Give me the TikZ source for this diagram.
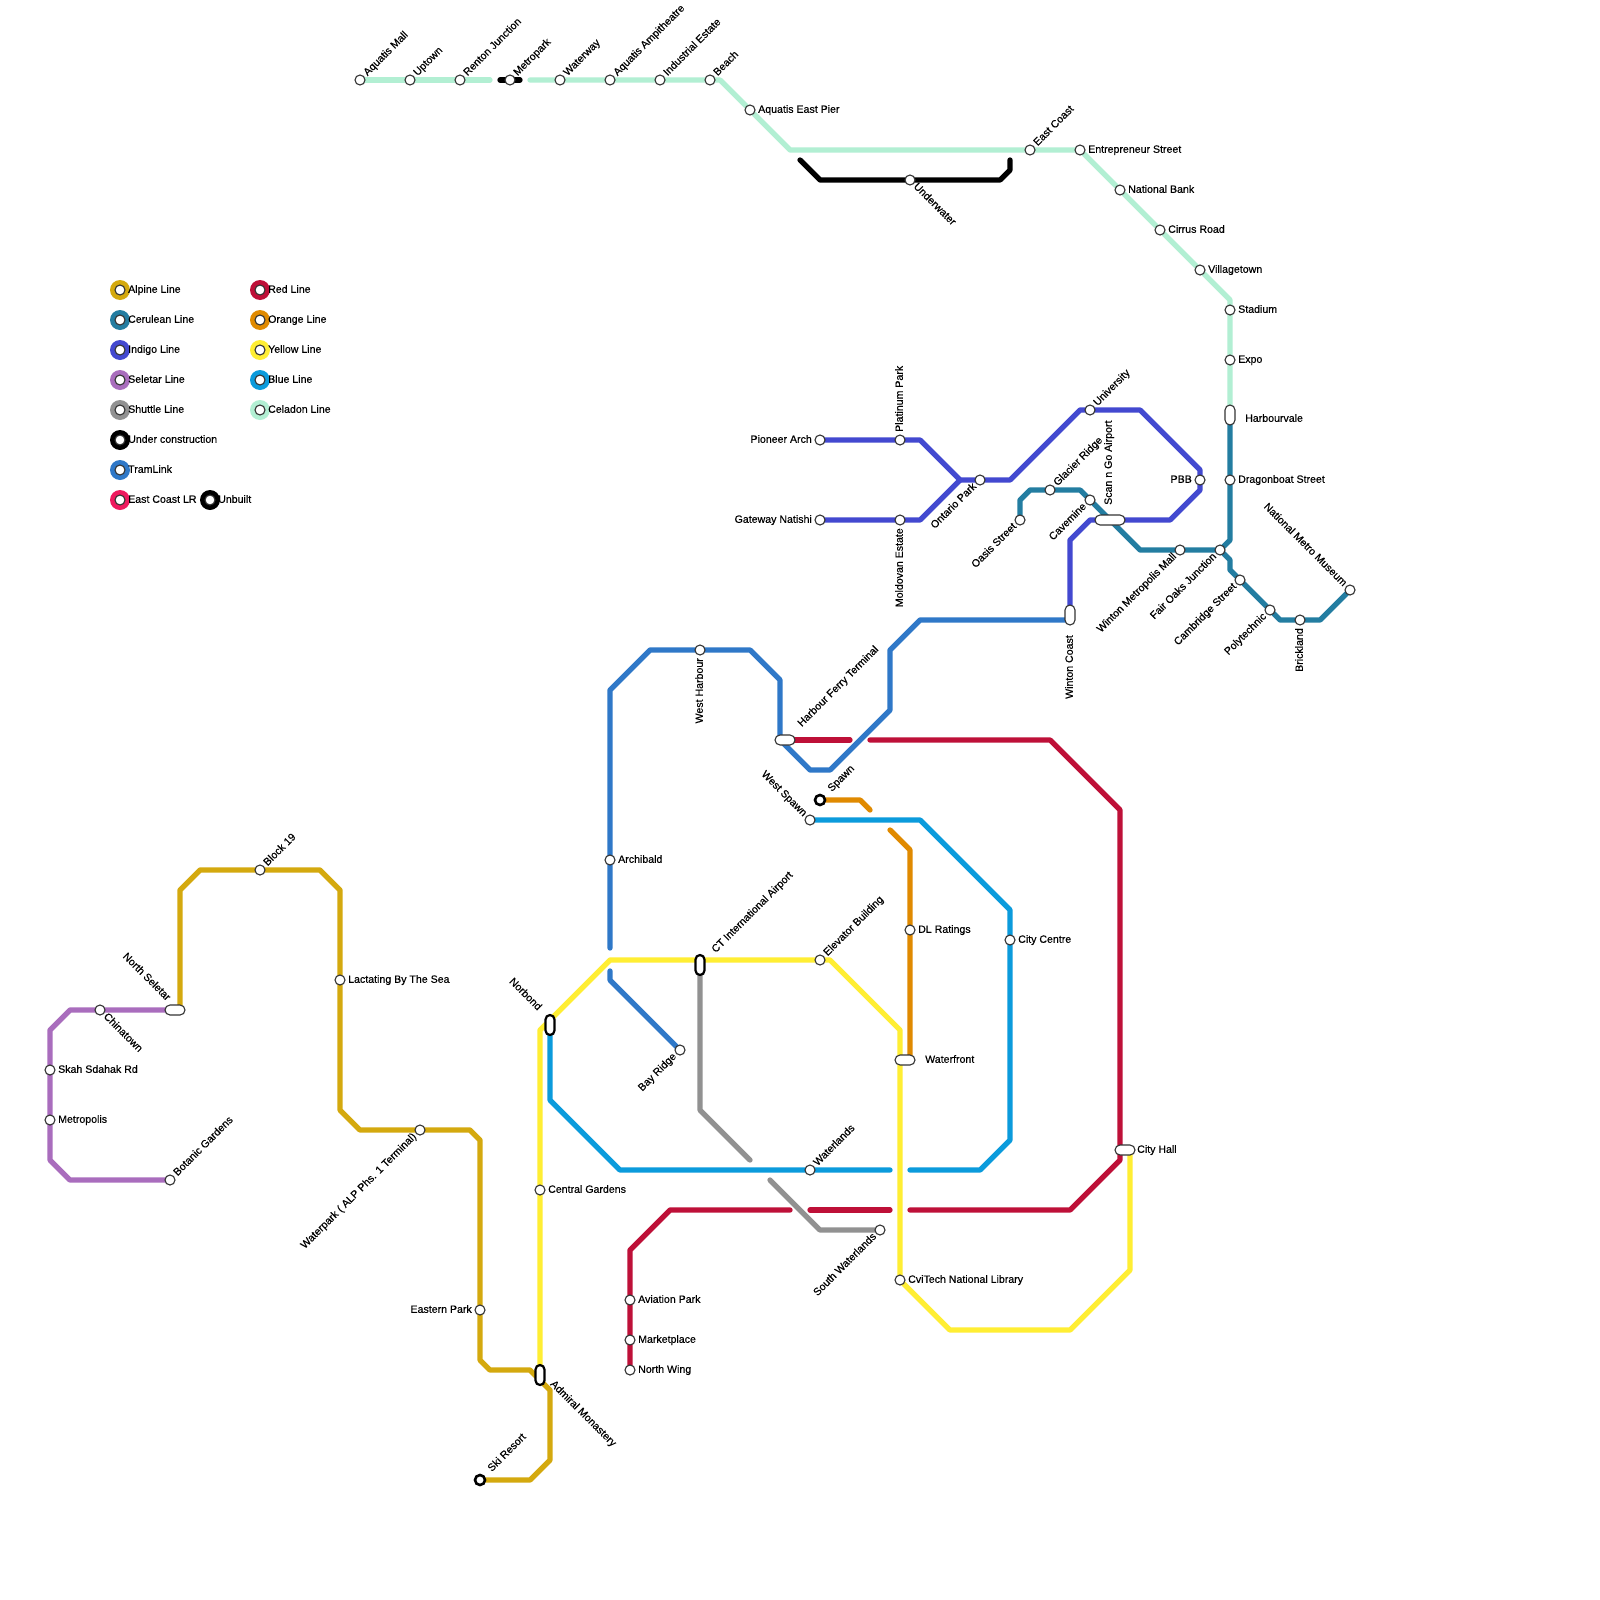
\documentclass[tikz,border=0pt]{standalone}
\usepackage{fontspec}
\setmainfont{Liberation Sans}[FakeBold=0.35]
\pgfdeclarelayer{bg}
\pgfsetlayers{bg,main}
\definecolor{cAlp}{HTML}{D4A90E}
\definecolor{cCer}{HTML}{237DA1}
\definecolor{cInd}{HTML}{4349D0}
\definecolor{cSel}{HTML}{A96DBD}
\definecolor{cShu}{HTML}{919191}
\definecolor{cTra}{HTML}{2F78C8}
\definecolor{cEas}{HTML}{EE1A5E}
\definecolor{cRed}{HTML}{BE1038}
\definecolor{cOra}{HTML}{E08A00}
\definecolor{cYel}{HTML}{FFEE33}
\definecolor{cBlu}{HTML}{0B9BDC}
\definecolor{cCel}{HTML}{B2EFD3}
\definecolor{cEdge}{HTML}{333333}
\tikzset{
  ln/.style={line width=5.3pt,line cap=round,line join=round},
  stn/.style={circle,draw=cEdge,line width=1.1pt,fill=white,minimum size=10pt,inner sep=0pt},
  term/.style={circle,draw=black,line width=2.6pt,fill=white,minimum size=10pt,inner sep=0pt},
  pillH/.style={rectangle,rounded corners=5pt,draw=cEdge,line width=1.1pt,fill=white,minimum width=20pt,minimum height=10pt,inner sep=0pt},
  pillL/.style={rectangle,rounded corners=5pt,draw=cEdge,line width=1.1pt,fill=white,minimum width=30pt,minimum height=10pt,inner sep=0pt},
  pillV/.style={rectangle,rounded corners=5pt,draw=cEdge,line width=1.1pt,fill=white,minimum width=10pt,minimum height=20pt,inner sep=0pt},
  pillK/.style={rectangle,rounded corners=4.5pt,draw=black,line width=2.2pt,fill=white,minimum width=9pt,minimum height=20pt,inner sep=0pt},
  tx/.style={inner sep=0pt,text height=7.6pt,text depth=2pt,font=\fontsize{10.6pt}{12pt}\selectfont,text=black},
  lE/.style={xshift=8pt,anchor=west},
  lW/.style={xshift=-8pt,anchor=east},
  lNE/.style={xshift=5.5pt,yshift=5.5pt,rotate=45,anchor=west},
  lSE/.style={xshift=5pt,yshift=-5pt,rotate=-45,anchor=west},
  lSW/.style={xshift=-5pt,yshift=-5pt,rotate=45,anchor=east},
  lNW/.style={xshift=-5pt,yshift=5pt,rotate=-45,anchor=east},
  lUp/.style={yshift=8pt,rotate=90,anchor=west},
  lDn/.style={yshift=-8pt,rotate=90,anchor=east},
  ring/.style={circle,minimum size=20pt,inner sep=0pt},
}
\newcommand{\stn}[5][stn]{\node[#1] (#2) at (#3) {}; \node[tx,#4] (#2L) at (#3) {#5};}
\newcommand{\legitem}[4]{\node[ring,fill=#3] (#1) at (#2) {}; \node[stn] (#1I) at (#2) {}; \node[tx,anchor=west,xshift=8pt] (#1L) at (#2) {#4};}
\begin{document}
\begin{tikzpicture}[x=1pt,y=-1pt]
\useasboundingbox (0,0) rectangle (1600,1600);
% legend
\legitem{gA}{120,290}{cAlp}{Alpine Line}
\legitem{gC}{120,320}{cCer}{Cerulean Line}
\legitem{gI}{120,350}{cInd}{Indigo Line}
\legitem{gS}{120,380}{cSel}{Seletar Line}
\legitem{gH}{120,410}{cShu}{Shuttle Line}
\legitem{gU}{120,440}{black}{Under construction}
\legitem{gT}{120,470}{cTra}{TramLink}
\legitem{gE}{120,500}{cEas}{East Coast LR}
\legitem{gN}{210,500}{black}{Unbuilt}
\legitem{gR}{260,290}{cRed}{Red Line}
\legitem{gO}{260,320}{cOra}{Orange Line}
\legitem{gY}{260,350}{cYel}{Yellow Line}
\legitem{gB}{260,380}{cBlu}{Blue Line}
\legitem{gL}{260,410}{cCel}{Celadon Line}
% celadon
\stn{aqm}{360,80}{lNE}{Aquatis Mall}
\stn{upt}{410,80}{lNE}{Uptown}
\stn{ren}{460,80}{lNE}{Renton Junction}
\stn{met}{510,80}{lNE}{Metropark}
\stn{wat}{560,80}{lNE}{Waterway}
\stn{amp}{610,80}{lNE}{Aquatis Ampitheatre}
\stn{ind}{660,80}{lNE}{Industrial Estate}
\stn{bea}{710,80}{lNE}{Beach}
\stn{aep}{750,110}{lE}{Aquatis East Pier}
\stn{eco}{1030,150}{lNE}{East Coast}
\stn{ent}{1080,150}{lE}{Entrepreneur Street}
\stn{nat}{1120,190}{lE}{National Bank}
\stn{cir}{1160,230}{lE}{Cirrus Road}
\stn{vil}{1200,270}{lE}{Villagetown}
\stn{sta}{1230,310}{lE}{Stadium}
\stn{exp}{1230,360}{lE}{Expo}
\stn[pillV]{hrb}{1230,415}{lE,xshift=7pt,yshift=-4pt}{Harbourvale}
% black
\stn{und}{910,180}{lSE}{Underwater}
% indigo
\stn{pio}{820,440}{lW}{Pioneer Arch}
\stn{pla}{900,440}{lUp}{Platinum Park}
\stn{gat}{820,520}{lW}{Gateway Natishi}
\stn{mol}{900,520}{lDn}{Moldovan Estate}
\stn{ont}{980,480}{lSW}{Ontario Park}
\stn{uni}{1090,410}{lNE}{University}
\stn{pbb}{1200,480}{lW}{PBB}
\stn[pillL]{sng}{1110,520}{lUp,xshift=7pt,yshift=1pt}{Scan n Go Airport}
\stn[pillV]{wco}{1070,615}{lDn,xshift=-12pt}{Winton Coast}
% cerulean
\stn{oas}{1020,520}{lSW}{Oasis Street}
\stn{gla}{1050,490}{lNE}{Glacier Ridge}
\stn{cav}{1090,500}{lSW}{Cavemine}
\stn{drb}{1230,480}{lE}{Dragonboat Street}
\stn{wmm}{1180,550}{lSW}{Winton Metropolis Mall}
\stn{foj}{1220,550}{lSW}{Fair Oaks Junction}
\stn{cam}{1240,580}{lSW}{Cambridge Street}
\stn{pol}{1270,610}{lSW}{Polytechnic}
\stn{bri}{1300,620}{lDn}{Brickland}
\stn{nmm}{1350,590}{lNW}{National Metro Museum}
% tram
\stn{wha}{700,650}{lDn}{West Harbour}
\stn{arc}{610,860}{lE}{Archibald}
\stn[pillH]{hft}{785,740}{lNE,xshift=13pt}{Harbour Ferry Terminal}
\stn{bay}{680,1050}{lSW}{Bay Ridge}
% orange
\stn[term]{spa}{820,800}{lNE,xshift=6pt}{Spawn}
\stn{dlr}{910,930}{lE}{DL Ratings}
\stn[pillH]{wfr}{905,1060}{lE,xshift=12pt}{Waterfront}
% blue
\stn{wsp}{810,820}{lNW}{West Spawn}
\stn{cic}{1010,940}{lE}{City Centre}
\stn{wld}{810,1170}{lNE}{Waterlands}
% yellow
\stn[pillK]{nor}{550,1025}{lNW,xshift=-11.5pt,yshift=4pt}{Norbond}
\stn[pillK]{cta}{700,965}{lNE,xshift=11.5pt}{CT International Airport}
\stn{elv}{820,960}{lNE}{Elevator Building}
\stn{cgd}{540,1190}{lE}{Central Gardens}
\stn{cvt}{900,1280}{lE}{CviTech National Library}
\stn[pillH]{cih}{1125,1150}{lE,xshift=4pt}{City Hall}
% red
\stn{avi}{630,1300}{lE}{Aviation Park}
\stn{mkt}{630,1340}{lE}{Marketplace}
\stn{nwg}{630,1370}{lE}{North Wing}
% shuttle
\stn{swl}{880,1230}{lSW}{South Waterlands}
% alpine
\stn{blk}{260,870}{lNE}{Block 19}
\stn{lac}{340,980}{lE}{Lactating By The Sea}
\stn{wpk}{420,1130}{lSW}{Waterpark ( ALP Phs. 1 Terminal)}
\stn{eap}{480,1310}{lW}{Eastern Park}
\stn[term]{ski}{480,1480}{lNE,xshift=6pt}{Ski Resort}
\stn[pillK]{adm}{540,1375}{lSE,xshift=6.5pt,yshift=3pt}{Admiral Monastery}
\stn[pillH]{nse}{175,1010}{lNW,xshift=-5pt,yshift=3pt}{North Seletar}
% seletar
\stn{chi}{100,1010}{lSE}{Chinatown}
\stn{ska}{50,1070}{lE}{Skah Sdahak Rd}
\stn{mpl}{50,1120}{lE}{Metropolis}
\stn{bot}{170,1180}{lNE}{Botanic Gardens}
\begin{pgfonlayer}{bg}
\fill[white] (0,0) rectangle (1600,1600);
\draw[ln,cCel] (aqm.center) -- (490,80);
\draw[ln,cCel] (530,80) -- (bea.center) -- (720,80) -- (790,150) -- (ent.center) -- (1230,300) -- (hrb.center);
\draw[ln,black] (500,80) -- (met.center) -- (520,80);
\draw[ln,black] (800,160) -- (820,180) -- (und.center) -- (1000,180) -- (1010,170) -- (1010,160);
\draw[ln,cCer] (oas.center) -- (1020,500) -- (1030,490) -- (1080,490) -- (1140,550) -- (foj.center) -- (1230,540) -- (hrb.center);
\draw[ln,cCer] (foj.center) -- (1230,560) -- (1230,570) -- (1280,620) -- (1320,620) -- (nmm.center);
\draw[ln,cInd] (pio.center) -- (920,440) -- (960,480) -- (1010,480) -- (1080,410) -- (1140,410) -- (1200,470) -- (1200,490) -- (1170,520) -- (1090,520) -- (1070,540) -- (wco.center);
\draw[ln,cInd] (gat.center) -- (920,520) -- (960,480);
\draw[ln,cTra] (610,948) -- (610,690) -- (650,650) -- (750,650) -- (780,680) -- (780,740) -- (810,770) -- (830,770) -- (890,710) -- (890,650) -- (920,620) -- (1070,620);
\draw[ln,cTra] (610,971) -- (610,980) -- (bay.center);
\draw[ln,cRed] (hft.center) -- (850,740);
\draw[ln,cRed] (870,740) -- (1050,740) -- (1120,810) -- (1120,1160) -- (1070,1210) -- (910,1210);
\draw[ln,cRed] (890,1210) -- (810,1210);
\draw[ln,cRed] (790,1210) -- (670,1210) -- (630,1250) -- (nwg.center);
\draw[ln,cOra] (spa.center) -- (860,800) -- (870,810);
\draw[ln,cOra] (890,830) -- (910,850) -- (910,1060);
\draw[ln,cBlu] (wsp.center) -- (920,820) -- (1010,910) -- (1010,1140) -- (980,1170) -- (910,1170);
\draw[ln,cBlu] (890,1170) -- (620,1170) -- (550,1100) -- (nor.center);
\draw[ln,cShu] (cta.center) -- (700,1110) -- (750,1160);
\draw[ln,cShu] (770,1180) -- (820,1230) -- (swl.center);
\draw[ln,cYel] (adm.center) -- (540,1030) -- (610,960) -- (830,960) -- (900,1030) -- (900,1280) -- (950,1330) -- (1070,1330) -- (1130,1270) -- (1130,1150);
\draw[ln,cAlp] (ski.center) -- (530,1480) -- (550,1460) -- (550,1390) -- (530,1370) -- (490,1370) -- (480,1360) -- (480,1140) -- (470,1130) -- (360,1130) -- (340,1110) -- (340,890) -- (320,870) -- (200,870) -- (180,890) -- (180,1010);
\draw[ln,cSel] (nse.center) -- (70,1010) -- (50,1030) -- (50,1160) -- (70,1180) -- (bot.center);
\end{pgfonlayer}
\end{tikzpicture}
\end{document}
